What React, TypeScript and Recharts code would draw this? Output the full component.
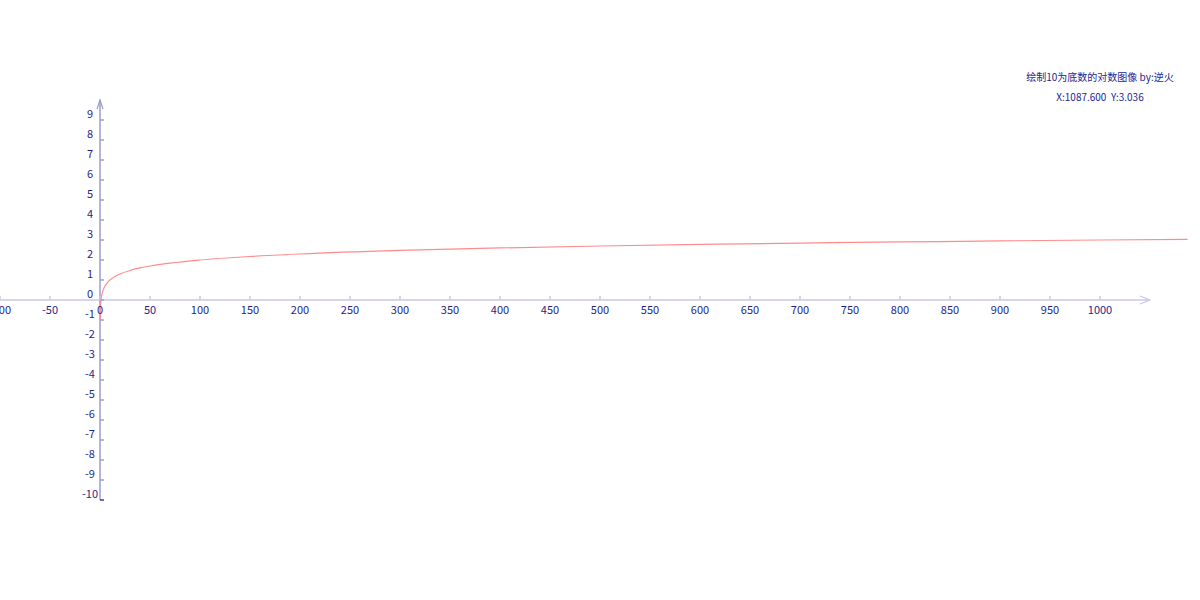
import React from 'react';
import { LineChart, Line, XAxis, YAxis, ReferenceLine, ReferenceDot } from 'recharts';

const X_TICKS = [-100, -50, 0, 50, 100, 150, 200, 250, 300, 350, 400, 450, 500, 550, 600, 650, 700, 750, 800, 850, 900, 950, 1000];
const Y_TICKS = [9, 8, 7, 6, 5, 4, 3, 2, 1, 0, -1, -2, -3, -4, -5, -6, -7, -8, -9, -10];

const CURVE_X = [0.1, 0.2, 0.5, 1, 2, 3, 5, 7, 10, 15, 20, 30, 40, 50, 70, 100, 150, 200, 300, 400, 500, 600, 700, 800, 900, 1000, 1087.6];
const CURVE_Y = [-1, -0.699, -0.301, 0, 0.301, 0.477, 0.699, 0.845, 1, 1.176, 1.301, 1.477, 1.602, 1.699, 1.845, 2, 2.176, 2.301, 2.477, 2.602, 2.699, 2.778, 2.845, 2.903, 2.954, 3, 3.036];

const TITLE = '绘制10为底数的对数图像 by:逆火';
const CURSOR_TEXT = 'X:1087.600\u00a0\u00a0Y:3.036';

const X_DOMAIN = [-100, 1100];
const Y_DOMAIN = [-15, 15];
const X_AXIS_END = 1050;
const Y_AXIS_TOP = 10;
const Y_AXIS_BOTTOM = -10;

const data = CURVE_X.map((x, i) => ({ x, y: CURVE_Y[i] }));

const FONT = '"Noto Sans CJK SC", "Noto Sans", sans-serif';
const LABEL_COLOR = '#1f1f86';

const XTick = (v: number) => (p: any) => (
  <g>
    <line x1={p.cx} y1={p.cy} x2={p.cx} y2={p.cy - 4} stroke="#c8c8e6" strokeWidth={1.5} />
    <text x={p.cx} y={p.cy + 14} textAnchor="middle" fontSize={11} fontFamily={FONT} fill={LABEL_COLOR}>
      {v}
    </text>
  </g>
);

const YTick = (v: number) => (p: any) => (
  <g>
    <line x1={p.cx} y1={p.cy} x2={p.cx + 4} y2={p.cy} stroke={v === -10 ? '#3a3a9a' : '#a0a0d0'} strokeWidth={1.5} />
    <text x={p.cx - 10} y={p.cy - 2} textAnchor="middle" fontSize={11} fontFamily={FONT} fill={LABEL_COLOR}>
      {v}
    </text>
  </g>
);

const XArrow = (p: any) => (
  <path d={`M${p.cx - 10},${p.cy - 4} L${p.cx},${p.cy} L${p.cx - 10},${p.cy + 4}`} fill="none" stroke="#c8c8e6" strokeWidth={1.2} />
);

const YArrow = (p: any) => (
  <path d={`M${p.cx - 3},${p.cy + 9} L${p.cx},${p.cy} L${p.cx + 3},${p.cy + 9}`} fill="none" stroke="#9a9acc" strokeWidth={1.2} />
);

export default function App() {
  return (
    <div style={{ position: 'absolute', left: 0, top: 0, width: 1200, height: 600, background: '#fff' }}>
      <LineChart width={1200} height={600} data={data} margin={{ top: 0, right: 0, bottom: 0, left: 0 }}>
        <XAxis type="number" dataKey="x" domain={X_DOMAIN} hide allowDataOverflow />
        <YAxis type="number" domain={Y_DOMAIN} hide allowDataOverflow />
        <ReferenceLine
          segment={[{ x: X_DOMAIN[0], y: 0 }, { x: X_AXIS_END, y: 0 }]}
          stroke="#d6d6ee"
          strokeWidth={2}
        />
        <ReferenceLine
          segment={[{ x: 0, y: Y_AXIS_TOP }, { x: 0, y: Y_AXIS_BOTTOM }]}
          stroke="#b4b4dc"
          strokeWidth={2}
        />
        {X_TICKS.map((v) => (
          <ReferenceDot key={'x' + v} x={v} y={0} r={0} shape={XTick(v)} ifOverflow="visible" />
        ))}
        {Y_TICKS.map((v) => (
          <ReferenceDot key={'y' + v} x={0} y={v} r={0} shape={YTick(v)} ifOverflow="visible" />
        ))}
        <ReferenceDot x={X_AXIS_END} y={0} r={0} shape={XArrow} ifOverflow="visible" />
        <ReferenceDot x={0} y={Y_AXIS_TOP} r={0} shape={YArrow} ifOverflow="visible" />
        <Line
          type="monotone"
          dataKey="y"
          stroke="#ff8c8c"
          strokeWidth={1.2}
          dot={false}
          activeDot={false}
          isAnimationActive={false}
        />
      </LineChart>
      <div
        style={{
          position: 'absolute',
          left: 1000,
          width: 200,
          top: 67,
          textAlign: 'center',
          fontFamily: FONT,
          fontSize: 10,
          color: '#26268f',
          lineHeight: '20px',
          whiteSpace: 'pre',
        }}
      >
        <div>{TITLE}</div>
        <div>{CURSOR_TEXT}</div>
      </div>
    </div>
  );
}
